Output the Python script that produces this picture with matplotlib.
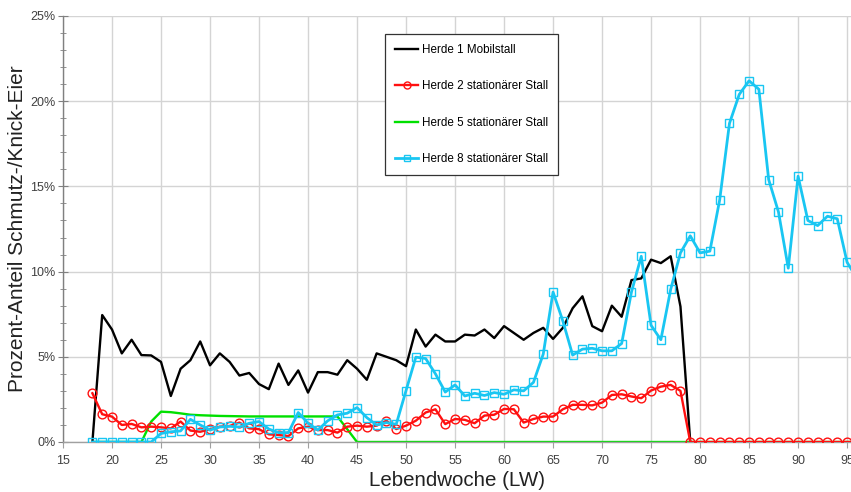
import matplotlib
matplotlib.use("Agg")
import matplotlib.pyplot as plt
from matplotlib.ticker import MultipleLocator, FuncFormatter

plt.rcParams['font.family'] = ['Liberation Sans', 'DejaVu Sans']

# Lebendwoche (weeks of age)
weeks_h1 = list(range(18, 80))
weeks_all = list(range(18, 97))

# Share of dirty/cracked eggs in percent
herde1 = [0, 7.45, 6.6, 5.2, 6.0, 5.1, 5.08, 4.7, 2.7, 4.3,
          4.8, 5.9, 4.5, 5.2, 4.7, 3.9, 4.05, 3.4, 3.1, 4.6,
          3.35, 4.2, 2.9, 4.1, 4.1, 3.95, 4.8, 4.3, 3.65, 5.2,
          5.0, 4.8, 4.45, 6.6, 5.6, 6.3, 5.9, 5.9, 6.3, 6.25,
          6.6, 6.1, 6.8, 6.4, 6.0, 6.4, 6.7, 6.05, 6.7, 7.85,
          8.55, 6.8, 6.5, 8.0, 7.35, 9.5, 9.6, 10.7, 10.5, 10.9,
          7.95, 0]

herde2 = [2.86, 1.63, 1.49, 1.0, 1.06, 0.86, 0.9, 0.86, 0.8, 1.2,
          0.67, 0.6, 0.75, 0.9, 0.94, 1.14, 0.8, 0.75, 0.45, 0.41,
          0.35, 0.8, 0.9, 0.7, 0.7, 0.55, 0.9, 0.96, 0.9, 0.96,
          1.25, 0.76, 0.96, 1.25, 1.73, 1.92, 1.05, 1.35, 1.3, 1.1,
          1.55, 1.6, 1.94, 1.92, 1.14, 1.35, 1.49, 1.49, 1.92, 2.18,
          2.18, 2.15, 2.31, 2.76, 2.8, 2.67, 2.57, 3.02, 3.25, 3.35,
          3.0, 0, 0, 0, 0, 0, 0, 0, 0, 0,
          0, 0, 0, 0, 0, 0, 0, 0, 0]

herde5 = [0, 0, 0, 0, 0, 0, 1.2, 1.78, 1.75, 1.68,
          1.6, 1.57, 1.55, 1.53, 1.52, 1.51, 1.5, 1.5, 1.5, 1.5,
          1.5, 1.5, 1.5, 1.5, 1.5, 1.5, 0.75, 0, 0, 0,
          0, 0, 0, 0, 0, 0, 0, 0, 0, 0,
          0, 0, 0, 0, 0, 0, 0, 0, 0, 0,
          0, 0, 0, 0, 0, 0, 0, 0, 0, 0,
          0, 0, 0, 0, 0, 0, 0, 0, 0, 0,
          0, 0, 0, 0, 0, 0, 0, 0, 0]

herde8 = [0, 0, 0, 0, 0, 0, 0, 0.5, 0.6, 0.65,
          1.33, 1.0, 0.7, 0.88, 0.92, 0.88, 1.1, 1.2, 0.76, 0.55,
          0.55, 1.73, 1.1, 0.7, 1.24, 1.59, 1.69, 2.02, 1.43, 1.0,
          1.14, 1.04, 3.02, 4.98, 4.9, 4.0, 2.93, 3.35, 2.7, 2.86,
          2.73, 2.9, 2.8, 3.06, 3.0, 3.5, 5.16, 8.8, 7.1, 5.1,
          5.45, 5.5, 5.35, 5.35, 5.78, 8.8, 10.9, 6.85, 6.0, 8.95,
          11.1, 12.1, 11.1, 11.2, 14.2, 18.7, 20.4, 21.2, 20.7, 15.4,
          13.5, 10.2, 15.6, 13.0, 12.7, 13.25, 13.1, 10.55, 9.6]

labels = ["Herde 1 Mobilstall", "Herde 2 stationärer Stall",
          "Herde 5 stationärer Stall", "Herde 8 stationärer Stall"]

W, H = 851, 492
fig = plt.figure(figsize=(W / 100, H / 100), dpi=100)
ax = fig.add_axes([63 / W, (H - 442) / H, (W - 63) / W, (442 - 16) / H])

l1, = ax.plot(weeks_h1, herde1, color="black", lw=1.7, zorder=3)
l5, = ax.plot(weeks_all, herde5, color="#00E000", lw=1.7, zorder=2)
l2, = ax.plot(weeks_all, herde2, color="#FF1010", lw=1.7, marker="o",
              markersize=6.3, markerfacecolor="none", markeredgecolor="#FF1010",
              markeredgewidth=1.0, zorder=4)
l8, = ax.plot(weeks_all, herde8, color="#19C6F2", lw=2.0, marker="s",
              markersize=5.8, markerfacecolor="none", markeredgecolor="#19C6F2",
              markeredgewidth=1.0, zorder=5)

ax.set_xlim(15, 95.4)
ax.set_ylim(0, 25)
ax.xaxis.set_major_locator(MultipleLocator(5))
ax.yaxis.set_major_locator(MultipleLocator(5))
ax.yaxis.set_minor_locator(MultipleLocator(1))
ax.yaxis.set_major_formatter(FuncFormatter(lambda v, p: f"{v:.0f}%"))

ax.grid(True, which="major", color="#D4D4D4", lw=1.0, zorder=0)
ax.set_axisbelow(True)
for s in ("top", "right"):
    ax.spines[s].set_visible(False)
ax.spines["left"].set_color("#808080")
ax.spines["bottom"].set_color("#A0A0A0")
ax.spines["left"].set_linewidth(1.0)
ax.spines["bottom"].set_linewidth(1.0)

ax.tick_params(axis="y", which="major", direction="inout", length=7,
               color="#808080", labelsize=9, labelcolor="#404040", pad=2)
ax.tick_params(axis="y", which="minor", direction="inout", length=5,
               color="#808080")
ax.tick_params(axis="x", which="major", direction="out", length=4,
               color="#A0A0A0", labelsize=9, labelcolor="#404040", pad=5)

ax.set_xlabel("Lebendwoche (LW)", fontsize=14.8, color="#222222", labelpad=3)
ax.set_ylabel("Prozent-Anteil Schmutz-/Knick-Eier", fontsize=15.0,
              color="#222222", labelpad=2)

leg = fig.legend([l1, l2, l5, l8], labels, loc="upper left",
                 bbox_to_anchor=(385 / W, 1 - 34 / H), fontsize=8.4,
                 frameon=True, fancybox=False, edgecolor="#333333",
                 framealpha=1.0, handlelength=2.0, handletextpad=0.3,
                 labelspacing=2.1, borderpad=0.85, markerscale=0.8,
                 borderaxespad=0)
leg.get_frame().set_linewidth(0.9)

fig.savefig("out.png", dpi=100)
